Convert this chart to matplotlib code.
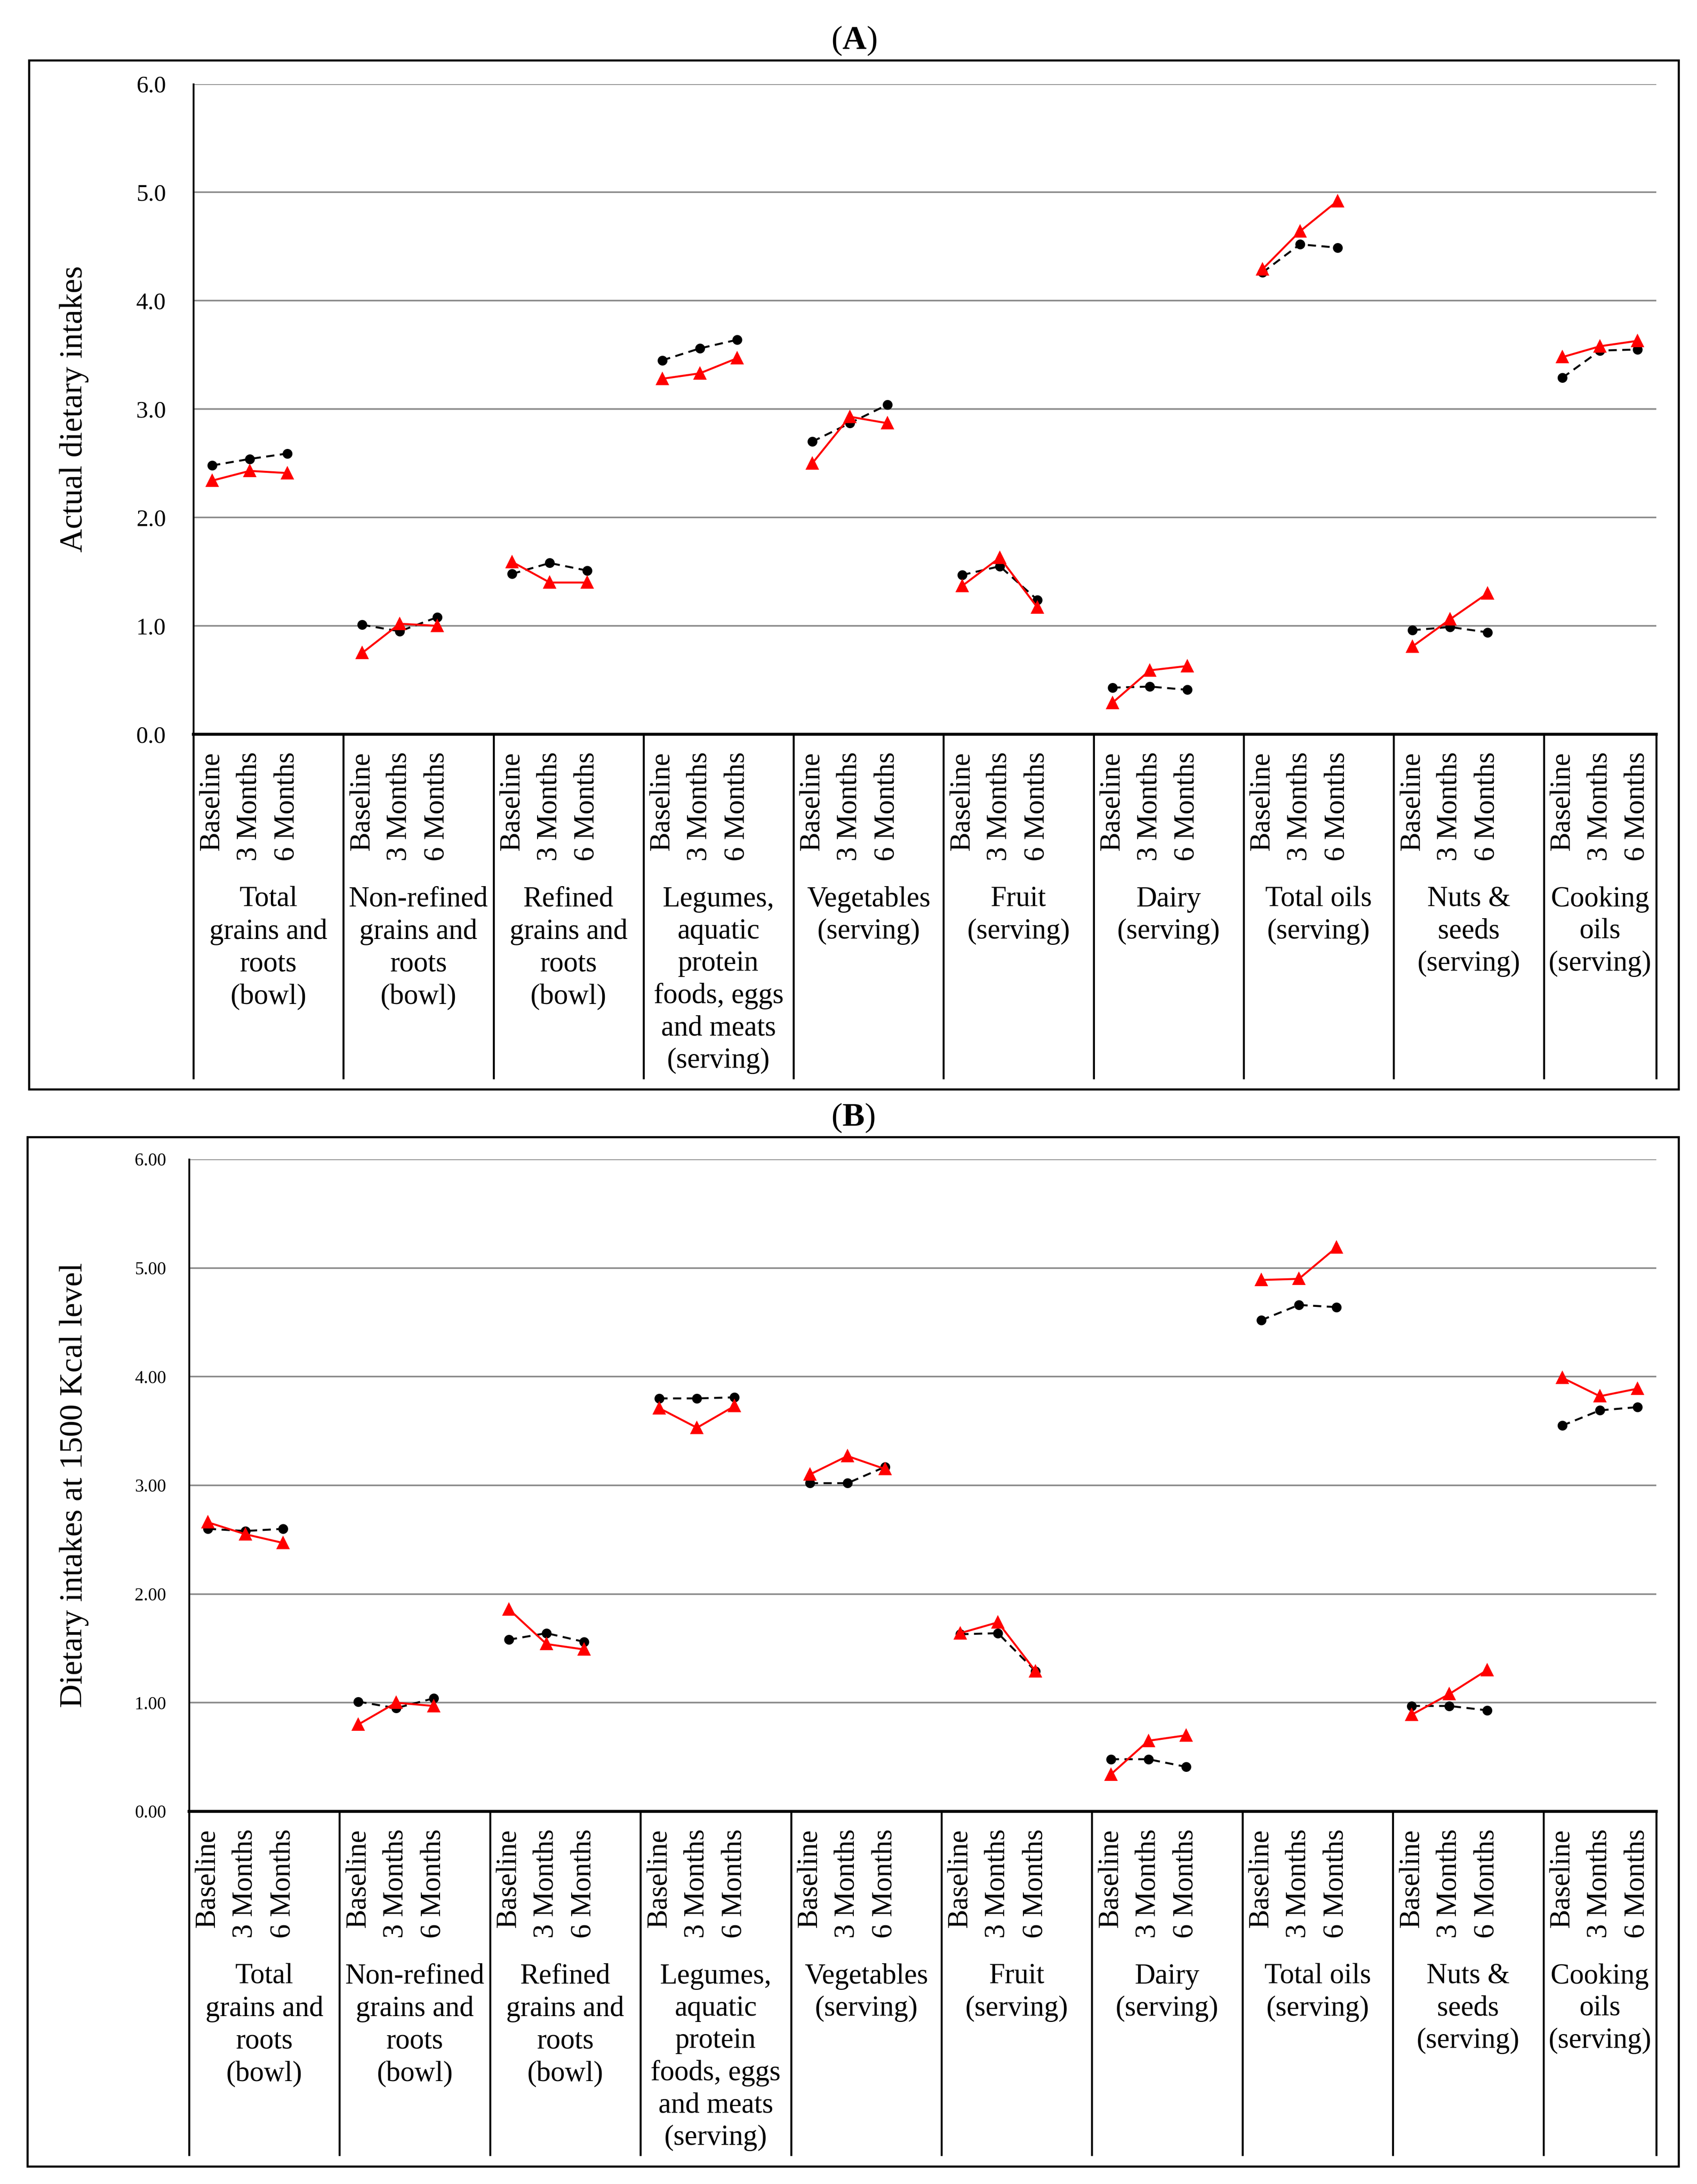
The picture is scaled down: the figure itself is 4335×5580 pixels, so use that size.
import matplotlib
matplotlib.use("Agg")
import matplotlib.pyplot as plt
from matplotlib.patches import Rectangle
import numpy as np

plt.rcParams['font.family'] = ['Liberation Serif', 'DejaVu Serif']
plt.rcParams['mathtext.fontset'] = 'custom'
plt.rcParams['mathtext.rm'] = 'Liberation Serif'
plt.rcParams['mathtext.bf'] = 'Liberation Serif:bold'

# ---------------- data ----------------
categories = [
    "Total\ngrains and\nroots\n(bowl)",
    "Non-refined\ngrains and\nroots\n(bowl)",
    "Refined\ngrains and\nroots\n(bowl)",
    "Legumes,\naquatic\nprotein\nfoods, eggs\nand meats\n(serving)",
    "Vegetables\n(serving)",
    "Fruit\n(serving)",
    "Dairy\n(serving)",
    "Total oils\n(serving)",
    "Nuts &\nseeds\n(serving)",
    "Cooking\noils\n(serving)",
]
timepoints = ["Baseline", "3 Months", "6 Months"]

# Panel A: actual dietary intakes
a_black = [[2.48, 2.54, 2.59], [1.01, 0.95, 1.08], [1.48, 1.58, 1.51],
           [3.45, 3.56, 3.64], [2.70, 2.87, 3.04], [1.47, 1.55, 1.24],
           [0.43, 0.44, 0.41], [4.26, 4.52, 4.49], [0.96, 0.99, 0.94],
           [3.29, 3.54, 3.55]]
a_red = [[2.34, 2.43, 2.41], [0.75, 1.02, 1.00], [1.59, 1.40, 1.40],
         [3.28, 3.33, 3.47], [2.50, 2.93, 2.87], [1.37, 1.63, 1.17],
         [0.29, 0.59, 0.63], [4.29, 4.64, 4.92], [0.81, 1.06, 1.30],
         [3.48, 3.58, 3.63]]

# Panel B: dietary intakes at 1500 Kcal level
b_black = [[2.60, 2.58, 2.60], [1.01, 0.95, 1.04], [1.58, 1.64, 1.56],
           [3.80, 3.80, 3.81], [3.02, 3.02, 3.17], [1.63, 1.64, 1.29],
           [0.48, 0.48, 0.41], [4.52, 4.66, 4.64], [0.97, 0.97, 0.93],
           [3.55, 3.69, 3.72]]
b_red = [[2.66, 2.55, 2.47], [0.80, 1.00, 0.97], [1.86, 1.54, 1.49],
         [3.71, 3.53, 3.73], [3.10, 3.27, 3.15], [1.64, 1.74, 1.29],
         [0.34, 0.65, 0.70], [4.89, 4.90, 5.19], [0.89, 1.08, 1.30],
         [3.99, 3.82, 3.89]]

yticks = [0, 1, 2, 3, 4, 5, 6]

# ---------------- layout (pixels) ----------------
W, H = 4335, 5580
DPI = 300
fig = plt.figure(figsize=(W / DPI, H / DPI), dpi=DPI)
fig.patch.set_facecolor('white')

GRID_C = '#8c8c8c'


def fx(px):
    return px / W


def fy(py):
    return 1 - py / H


def make_panel(left, right, top, bottom, sep_bot, black, red, tickfmt,
               tick_fs, tick_pad, ylabel, title, title_y, frame):
    ax = fig.add_axes([fx(left), fy(bottom), fx(right - left),
                       (bottom - top) / H])
    n = len(categories)
    for i in range(n):
        xs = [4 * i + j for j in range(len(timepoints))]
        ax.plot(xs, black[i], color='black', lw=1.2, dashes=(4.2, 2.8),
                marker='o', ms=5, mfc='black', mec='black', zorder=3,
                clip_on=False)
    for i in range(n):
        xs = [4 * i + j for j in range(len(timepoints))]
        ax.plot(xs, red[i], color='#ff0000', lw=1.2, ls='-',
                marker='^', ms=6.5, mfc='#ff0000', mec='#ff0000', zorder=4,
                clip_on=False)
    ax.set_xlim(-0.5, 4 * n - 1.5)
    ax.set_ylim(0, 6)
    ax.set_yticks(yticks)
    ax.set_yticklabels([tickfmt.format(v) for v in yticks], fontsize=tick_fs)
    ax.tick_params(axis='y', length=0, pad=tick_pad)
    ax.set_xticks([])
    ax.yaxis.grid(True, color=GRID_C, lw=1.0)
    ax.set_axisbelow(True)
    for s in ['top', 'right']:
        ax.spines[s].set_visible(False)
    ax.spines['left'].set_linewidth(1.1)
    ax.spines['bottom'].set_linewidth(1.8)
    ax.spines['left'].set_zorder(5)
    ax.spines['bottom'].set_zorder(5)

    h = bottom - top
    trans = ax.get_xaxis_transform()
    sep_y = (bottom - sep_bot) / h
    bounds = [4 * i - 0.5 for i in range(n)] + [4 * n - 1.5]
    for b in bounds:
        ax.plot([b, b], [0, sep_y], transform=trans, color='black', lw=1.2,
                clip_on=False, solid_capstyle='butt')
    lab_y = -45 / h
    cat_y = -388 / h
    for i in range(n):
        for j, t in enumerate(timepoints):
            ax.text(4 * i + j, lab_y, t, transform=trans, rotation=90,
                    ha='center', va='top', fontsize=17.6)
        lo = bounds[i]
        hi = bounds[i + 1]
        ax.text((lo + hi) / 2, cat_y, categories[i], transform=trans,
                ha='center', va='top', fontsize=17.5, linespacing=1.29,
                multialignment='center')

    fig.text(fx(189), fy((top + bottom) / 2), ylabel, rotation=90,
             ha='center', va='center', fontsize=20)
    fl, fr, ft, fb = frame
    fig.text(fx((fl + fr) / 2), fy(title_y), title, ha='center',
             va='center', fontsize=20.5)
    fig.add_artist(Rectangle((fx(fl), fy(fb)), fx(fr - fl), (fb - ft) / H,
                             transform=fig.transFigure, fill=False,
                             ec='black', lw=1.3))
    return ax


make_panel(494, 4231, 214.5, 1876, 2757, a_black, a_red, "{:.1f}", 14.6,
           16.8, "Actual dietary intakes", r"($\mathbf{A}$)", 105,
           (74, 4288, 154, 2783))
make_panel(483, 4231, 2962, 4628, 5508, b_black, b_red, "{:.2f}", 11.0,
           14.0, "Dietary intakes at 1500 Kcal level", r"($\mathbf{B}$)",
           2857, (70, 4288, 2905, 5535))

fig.savefig("out.png", dpi=DPI, facecolor='white')
